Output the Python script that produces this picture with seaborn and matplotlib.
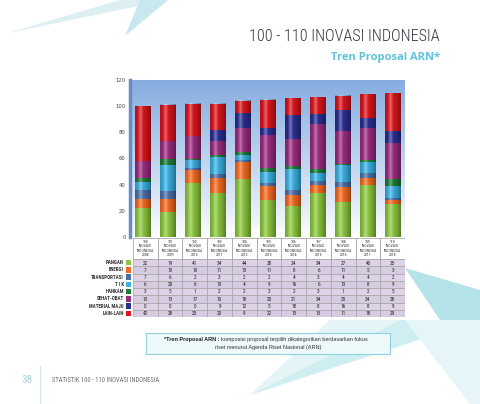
import numpy as np
import pandas as pd
import matplotlib
matplotlib.use("Agg")
import matplotlib.pyplot as plt
import matplotlib.transforms as mtransforms
from matplotlib.patches import Rectangle, Polygon
import seaborn as sns

# ---------------- data ----------------
years = ["2008", "2009", "2010", "2011", "2012", "2013", "2014", "2015", "2016", "2017", "2018"]
editions = ["100", "101", "102", "103", "104", "105", "106", "107", "108", "109", "110"]
categories = ["PANGAN", "ENERGI", "TRANSPORTASI", "T I K", "HANKAM", "SEHAT-OBAT", "MATERIAL MAJU", "LAIN-LAIN"]
pangan = [22, 19, 41, 34, 44, 28, 24, 34, 27, 40, 25]
energi = [7, 10, 10, 11, 13, 11, 8, 6, 11, 5, 3]
transportasi = [7, 6, 2, 3, 2, 2, 4, 3, 4, 4, 2]
tik = [6, 20, 6, 13, 4, 9, 16, 6, 13, 8, 9]
hankam = [3, 5, 1, 2, 2, 3, 2, 3, 1, 2, 5]
sehat_obat = [13, 13, 17, 10, 18, 25, 21, 34, 25, 24, 28]
material_maju = [0, 0, 0, 9, 12, 5, 18, 8, 16, 8, 9]
lain_lain = [42, 28, 25, 20, 9, 22, 13, 13, 11, 18, 29]
series = [pangan, energi, transportasi, tik, hankam, sehat_obat, material_maju, lain_lain]
yticks = [0, 20, 40, 60, 80, 100, 120]

colors = ["#8cc63f", "#f26a22", "#4b6fa8", "#3aafe0", "#1f7a36", "#9a2c80", "#2a2e90", "#d8151d"]

COND = ["Roboto Condensed", "DejaVu Sans"]

# ---------------- figure ----------------
W, H = 480, 404
fig = plt.figure(figsize=(W / 100, H / 100), dpi=100)
fig.patch.set_facecolor("white")
sns.set_style("white")


def fx(px):
    return px / W


def fy(py):
    return 1 - py / H


# decorative background shapes
bg = fig.add_axes([0, 0, 1, 1], zorder=-5)
bg.set_xlim(0, W)
bg.set_ylim(H, 0)
bg.axis("off")
bg.add_patch(Polygon([(8, 33), (168, 0), (120, 0)], closed=True, color="#dcf0f4", lw=0))
bg.add_patch(Polygon([(125, 36), (140, 0), (168, 0)], closed=True, color="#c8e8ef", lw=0))
bg.add_patch(Polygon([(405, 268), (480, 290), (480, 330), (440, 320)], closed=True, color="#b5e3ea", lw=0))
bg.add_patch(Polygon([(250, 395), (480, 320), (400, 320)], closed=True, color="#cfeef2", lw=0))
bg.add_patch(Polygon([(250, 395), (330, 320), (400, 320)], closed=True, color="#e3f5f7", lw=0))
bg.add_patch(Polygon([(405, 320), (480, 320), (480, 404), (470, 404)], closed=True, color="#e6f6f8", lw=0))

# footer
bg.text(27, 380, "38", fontsize=8, color="#a9d3dc", ha="center", va="center",
        family=COND, fontstretch="condensed")
bg.plot([40, 40], [366, 404], color="#cfe6ec", lw=0.8)
bg.text(52, 380, "STATISTIK 100 - 110 INOVASI INDONESIA", fontsize=4.7, color="#707070",
        ha="left", va="center", family=COND, fontstretch="condensed")

# titles
fig.text(fx(440), fy(41), "100 - 110 INOVASI INDONESIA", fontsize=11.6, color="#3b3140",
         ha="right", va="baseline", family=COND, fontstretch="condensed", fontweight="light")
fig.text(fx(440), fy(60), "Tren Proposal ARN*", fontsize=8, color="#5ec3da", fontweight="bold",
         ha="right", va="baseline", family=["Open Sans", "DejaVu Sans"])

# ---------------- main chart ----------------
ax = fig.add_axes([fx(130), fy(237), fx(405) - fx(130), fy(80) - fy(237)])

grad = np.linspace(0, 1, 256).reshape(-1, 1)
top_c = np.array(matplotlib.colors.to_rgb("#86ade0"))
bot_c = np.array([1.0, 1.0, 1.0])
wgt = (1 - grad[:, :, None]) ** 0.9
img = top_c[None, None, :] * wgt + bot_c[None, None, :] * (1 - wgt)
ax.imshow(img, extent=(-0.5, 10.5, 0, 120), aspect="auto", origin="upper", zorder=0)

cum = np.zeros(len(years))
cums = []
for s in series:
    cum = cum + np.array(s)
    cums.append(cum.copy())

bar_w = 0.64
for k in range(len(categories) - 1, -1, -1):
    d = pd.DataFrame({"year": years, "value": cums[k]})
    sns.barplot(data=d, x="year", y="value", order=years, color=colors[k], saturation=1,
                width=bar_w, ax=ax, zorder=2, edgecolor="none", linewidth=0)

# cylinder shading
xs = np.linspace(0, 1, 64)
dark = np.clip(np.abs(xs - 0.38) / 0.62, 0, 1) ** 1.6
light = np.clip(1 - np.abs(xs - 0.35) / 0.18, 0, 1)
shade = np.zeros((1, 64, 4))
shade[0, :, 3] = dark * 0.38
hl = np.zeros((1, 64, 4))
hl[0, :, :3] = 1.0
hl[0, :, 3] = light * 0.35
totals = cums[-1]
for i, t in enumerate(totals):
    ax.imshow(shade, extent=(i - bar_w / 2, i + bar_w / 2, 0, t), aspect="auto", zorder=3)
    ax.imshow(hl, extent=(i - bar_w / 2, i + bar_w / 2, 0, t), aspect="auto", zorder=3)

ax.set_xlim(-0.5, 10.5)
ax.set_ylim(0, 120)
ax.set_yticks(yticks)
ax.set_yticklabels([str(v) for v in yticks], fontsize=3.8, color="#444444")
ax.tick_params(axis="y", length=0, pad=3)
ax.set_xticks([])
ax.set_xlabel("")
ax.set_ylabel("")
for sp in ["top", "right", "bottom"]:
    ax.spines[sp].set_visible(False)
ax.spines["left"].set_color("#6a8cc4")
ax.spines["left"].set_linewidth(2.5)

# ---------------- table ----------------
tx0, tx1, ty0, ty1 = 133, 405, 238, 317
axt = fig.add_axes([fx(tx0), fy(ty1), fx(tx1) - fx(tx0), fy(ty0) - fy(ty1)])
hdr = 2.9
nrow = len(categories)
axt.set_xlim(-0.5, 10.5)
axt.set_ylim(hdr + nrow, 0)
axt.axis("off")
for i in range(len(years)):
    axt.add_patch(Rectangle((i - 0.5, 0), 1, hdr, facecolor="white", edgecolor="#9a9a9a", lw=0.5))
    axt.text(i, hdr / 2, f"{editions[i]}\nINOVASI\nINDONESIA\n{years[i]}", fontsize=2.8,
             ha="center", va="center", color="#333333", linespacing=1.15,
             family=COND, fontstretch="condensed")
    for r in range(nrow):
        axt.add_patch(Rectangle((i - 0.5, hdr + r), 1, 1, facecolor="#ddd2e6" if r % 2 == 0 else "#d6cbe0",
                                edgecolor="#9a9a9a", lw=0.4))
        axt.text(i, hdr + r + 0.55, str(series[r][i]), fontsize=3.8, ha="center", va="center",
                 color="#222222", family=COND, fontstretch="condensed")

blend = mtransforms.blended_transform_factory(fig.transFigure, axt.transData)
for r, name in enumerate(categories):
    fig.text(fx(124), hdr + r + 0.5, name, transform=blend, fontsize=3.6, ha="right", va="center",
             color="#333333", fontweight="bold", family=COND, fontstretch="condensed")
    fig.patches.append(Rectangle((fx(125.5), hdr + r + 0.12), fx(5), 0.75, transform=blend,
                                 facecolor=colors[r], edgecolor="none", figure=fig))

# ---------------- footnote box ----------------
bg.add_patch(Rectangle((146, 333), 244, 21, facecolor="#eef9fb", edgecolor="#8fd2e0", lw=0.8))
bg.text(219, 339.5, "*Tren Proposal ARN :", fontsize=4.0, fontweight="bold", color="#222222",
        ha="right", va="center", family=["Liberation Sans", "DejaVu Sans"])
bg.text(221, 339.5, "komposisi proposal terpilih dikategorikan berdasarkan fokus", fontsize=4.0,
        color="#333333", ha="left", va="center", family=["Liberation Sans", "DejaVu Sans"])
bg.text(268, 347.5, "riset menurut Agenda Riset Nasional (ARN)", fontsize=4.0,
        color="#333333", ha="center", va="center", family=["Liberation Sans", "DejaVu Sans"])

fig.savefig("out.png", dpi=100, facecolor="white")
